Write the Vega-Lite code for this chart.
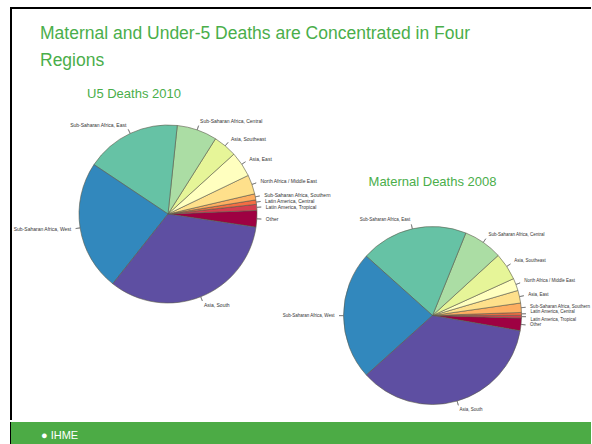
{
  "$schema": "https://vega.github.io/schema/vega-lite/v6.json",
  "background": "white",
  "padding": {"left": 10, "top": 7, "right": 0, "bottom": 0},
  "config": {
    "view": {"stroke": null},
    "font": "Liberation Sans",
    "title": {"font": "Liberation Sans", "fontWeight": "normal", "color": "#4aae4a", "baseline": "alphabetic", "frame": "group"}
  },
  "datasets": {
    "u5": [
      {"rank": 1, "region": "Other", "share": 3.0},
      {"rank": 2, "region": "Latin America, Tropical", "share": 1.1},
      {"rank": 3, "region": "Latin America, Central", "share": 0.8},
      {"rank": 4, "region": "Sub-Saharan Africa, Southern", "share": 1.1},
      {"rank": 5, "region": "North Africa / Middle East", "share": 3.5},
      {"rank": 6, "region": "Asia, East", "share": 4.6},
      {"rank": 7, "region": "Asia, Southeast", "share": 4.3},
      {"rank": 8, "region": "Sub-Saharan Africa, Central", "share": 7.3},
      {"rank": 9, "region": "Sub-Saharan Africa, East", "share": 17.3},
      {"rank": 10, "region": "Sub-Saharan Africa, West", "share": 23.7},
      {"rank": 11, "region": "Asia, South", "share": 33.3}
    ],
    "maternal": [
      {"rank": 1, "region": "Other", "share": 2.3},
      {"rank": 2, "region": "Latin America, Tropical", "share": 0.5},
      {"rank": 3, "region": "Latin America, Central", "share": 0.5},
      {"rank": 4, "region": "Sub-Saharan Africa, Southern", "share": 1.7},
      {"rank": 5, "region": "Asia, East", "share": 2.3},
      {"rank": 6, "region": "North Africa / Middle East", "share": 2.25},
      {"rank": 7, "region": "Asia, Southeast", "share": 5.0},
      {"rank": 8, "region": "Sub-Saharan Africa, Central", "share": 7.1},
      {"rank": 9, "region": "Sub-Saharan Africa, East", "share": 19.5},
      {"rank": 10, "region": "Sub-Saharan Africa, West", "share": 23.3},
      {"rank": 11, "region": "Asia, South", "share": 35.6}
    ]
  },
  "spacing": 0,
  "bounds": "full",
  "vconcat": [
    {
      "spacing": 0,
      "bounds": "flush",
      "resolve": {"scale": {"theta": "independent"}},
      "hconcat": [
        {
          "width": 314,
          "height": 412,
          "data": {"name": "u5"},
          "title": {"text": "U5 Deaths 2010", "anchor": "start", "dx": 76, "offset": -93.4, "fontSize": 13},
          "view": {"stroke": "black", "strokeWidth": 2, "strokeDash": [314, 726, 412]},
          "encoding": {
            "theta": {"field": "share", "type": "quantitative", "stack": "normalize", "scale": {"domain": [0, 1], "range": [1.7191, -4.5641], "nice": false, "zero": false}},
            "order": {"field": "rank", "type": "quantitative"},
            "detail": {"field": "rank", "type": "ordinal"}
          },
          "layer": [
            {
              "mark": {"type": "arc", "outerRadius": 89, "stroke": "#5a5a4a", "strokeWidth": 0.6},
              "encoding": {
                "color": {"field": "rank", "type": "ordinal", "legend": null, "scale": {"range": ["#9e0142", "#d53e4f", "#f46d43", "#fdae61", "#fee08b", "#ffffbf", "#e6f598", "#abdda4", "#66c2a5", "#3288bd", "#5e4fa2"]}}
              }
            },
            {
              "mark": {"type": "arc", "innerRadius": 89, "outerRadius": 93.5, "padAngle": 3, "filled": false, "color": "#666666", "strokeWidth": 0.6}
            },
            {
              "mark": {"type": "text", "radius": 98, "align": "left", "baseline": "middle", "fontSize": 5, "color": "#333333"},
              "encoding": {"text": {"condition": {"test": "datum.rank != 9 && datum.rank != 10", "field": "region"}, "value": ""}}
            },
            {
              "mark": {"type": "text", "radius": 98, "align": "right", "baseline": "middle", "fontSize": 5, "color": "#333333"},
              "encoding": {"text": {"condition": {"test": "datum.rank == 9 || datum.rank == 10", "field": "region"}, "value": ""}}
            }
          ]
        },
        {
          "spacing": 0,
          "bounds": "flush",
          "vconcat": [
            {
              "width": 266,
              "height": 203,
              "data": {"values": []},
              "mark": "point",
              "title": {"text": ["Maternal and Under-5 Deaths are Concentrated in Four", "Regions"], "anchor": "start", "dx": -285, "offset": -61, "fontSize": 17.5, "lineHeight": 26.5},
              "view": {"stroke": "black", "strokeWidth": 2, "strokeDash": [266, 672]}
            },
            {
              "width": 215,
              "height": 209,
              "data": {"name": "maternal"},
              "title": {"text": "Maternal Deaths 2008", "anchor": "middle", "offset": 22, "fontSize": 13},
              "encoding": {
                "theta": {"field": "share", "type": "quantitative", "stack": "normalize", "scale": {"domain": [0, 1], "range": [1.7436, -4.5396], "nice": false, "zero": false}},
                "order": {"field": "rank", "type": "quantitative"},
                "detail": {"field": "rank", "type": "ordinal"}
              },
              "layer": [
                {
                  "mark": {"type": "arc", "outerRadius": 89, "stroke": "#5a5a4a", "strokeWidth": 0.6},
                  "encoding": {
                    "color": {"field": "rank", "type": "ordinal", "legend": null, "scale": {"range": ["#9e0142", "#d53e4f", "#f46d43", "#fdae61", "#fee08b", "#ffffbf", "#e6f598", "#abdda4", "#66c2a5", "#3288bd", "#5e4fa2"]}}
                  }
                },
                {
                  "mark": {"type": "arc", "innerRadius": 89, "outerRadius": 93.5, "padAngle": 3, "filled": false, "color": "#666666", "strokeWidth": 0.6}
                },
                {
                  "mark": {"type": "text", "radius": 98, "align": "left", "baseline": "middle", "fontSize": 4.5, "color": "#333333", "limit": 61, "ellipsis": ""},
                  "encoding": {"text": {"condition": {"test": "datum.rank != 9 && datum.rank != 10 && datum.rank != 2 && datum.rank != 3", "field": "region"}, "value": ""}}
                },
                {
                  "mark": {"type": "text", "radius": 98, "align": "left", "baseline": "bottom", "fontSize": 4.5, "color": "#333333"},
                  "encoding": {"text": {"condition": {"test": "datum.rank == 3", "field": "region"}, "value": ""}}
                },
                {
                  "mark": {"type": "text", "radius": 98, "align": "left", "baseline": "top", "fontSize": 4.5, "color": "#333333"},
                  "encoding": {"text": {"condition": {"test": "datum.rank == 2", "field": "region"}, "value": ""}}
                },
                {
                  "mark": {"type": "text", "radius": 98, "align": "right", "baseline": "middle", "fontSize": 4.5, "color": "#333333"},
                  "encoding": {"text": {"condition": {"test": "datum.rank == 9 || datum.rank == 10", "field": "region"}, "value": ""}}
                }
              ]
            }
          ]
        }
      ]
    },
    {
      "width": 580,
      "height": 24,
      "data": {"values": [{"org": "IHME"}]},
      "mark": {"type": "rect", "color": "#4cab45"},
      "encoding": {},
      "title": {"text": "● IHME", "color": "white", "fontSize": 11, "anchor": "start", "dx": 30, "offset": -19},
      "view": {"fill": "#4cab45", "stroke": "black", "strokeWidth": 2, "strokeDash": [0, 1184, 24]}
    }
  ]
}
